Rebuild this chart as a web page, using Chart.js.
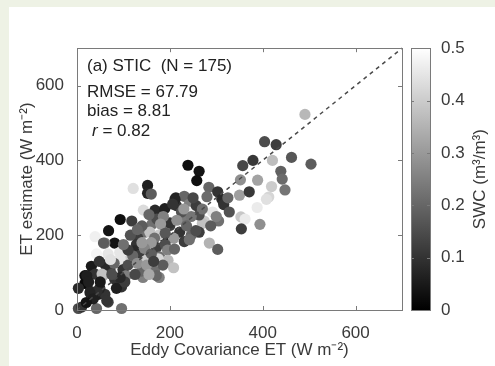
<!DOCTYPE html>
<html><head><meta charset="utf-8">
<script src="https://cdn.jsdelivr.net/npm/chart.js@4"></script>
<style>
html,body{margin:0;padding:0;background:#eef2e5;width:100%;height:100%;overflow:hidden;}
#wrap{position:fixed;left:9px;top:7px;right:0;bottom:0;background:#fff;}
canvas{display:block;}
</style></head><body>
<div id="wrap"><canvas id="c" width="486" height="359"></canvas></div>
<script>
// Eddy covariance ET (x), STIC estimate (y), soil water content (colour)
const ET_EC = [491,404,429,462,504,421,379,357,439,442,352,389,448,419,413,350,371,408,388,353,362,394,354,
239,263,258,284,303,312,316,328,280,213,231,214,242,242,257,292,305,274,228,200,221,253,270,263,246,236,263,246,256,231,242,285,303,288,225,270,
121,152,152,143,168,189,211,93,118,68,39,161,146,157,189,200,187,172,186,176,167,131,128,124,135,156,171,178,208,206,140,155,160,145,190,195,115,180,210,196,208,
81,60,42,67,92,89,112,31,17,17,3,29,46,60,49,67,42,3,96,10,56,39,71,81,99,106,96,85,103,142,142,149,171,177,167,139,175,171,93,93,61,54,57,21,48,25,43,64,28,110,120,130,150,160,80,75,110,50,35,20,125,155,185,165,100,72,140,130,190,215,230,160,250,300,325];
const ET_EST = [523,450,442,408,390,400,400,386,371,350,348,347,321,330,302,307,316,296,274,249,243,229,217,
387,371,346,328,316,296,282,262,303,300,304,279,283,262,279,262,238,238,242,226,208,208,232,254,250,225,208,200,212,183,188,179,162,225,262,270,
325,333,312,267,267,271,296,242,238,212,196,229,208,208,221,233,196,243,250,200,192,192,175,158,146,142,167,142,192,283,225,255,180,165,175,160,200,230,163,133,113,
179,179,150,150,154,133,133,117,92,71,58,50,42,42,58,21,4,4,4,8,92,96,108,83,108,92,62,58,75,108,87,133,117,87,104,104,137,92,137,87,121,96,179,92,130,75,50,25,46,120,145,125,120,150,125,95,160,75,30,20,95,95,120,130,175,135,180,215,205,240,270,310,300,250,300];
const SWC = [0.36,0.15,0.12,0.17,0.18,0.37,0.11,0.14,0.19,0.21,0.28,0.32,0.23,0.40,0.42,0.31,0.11,0.44,0.46,0.39,0.46,0.28,0.12,
0.03,0.04,0.03,0.20,0.10,0.08,0.10,0.16,0.21,0.07,0.20,0.10,0.25,0.47,0.12,0.45,0.22,0.40,0.24,0.12,0.10,0.36,0.38,0.15,0.23,0.20,0.12,0.20,0.15,0.12,0.22,0.35,0.18,0.18,0.16,0.22,
0.44,0.06,0.07,0.43,0.08,0.06,0.07,0.03,0.12,0.04,0.47,0.22,0.22,0.38,0.22,0.10,0.03,0.15,0.25,0.40,0.22,0.12,0.10,0.08,0.12,0.38,0.12,0.22,0.30,0.10,0.18,0.20,0.30,0.26,0.15,0.25,0.16,0.30,0.20,0.36,0.38,
0.04,0.25,0.48,0.45,0.45,0.48,0.40,0.05,0.03,0.02,0.08,0.08,0.06,0.10,0.07,0.12,0.20,0.15,0.22,0.10,0.35,0.10,0.12,0.10,0.10,0.25,0.10,0.06,0.12,0.12,0.25,0.40,0.35,0.25,0.22,0.20,0.42,0.20,0.45,0.08,0.08,0.38,0.18,0.06,0.10,0.06,0.09,0.10,0.07,0.15,0.20,0.28,0.30,0.18,0.20,0.15,0.12,0.05,0.06,0.04,0.14,0.33,0.18,0.12,0.22,0.44,0.30,0.20,0.17,0.28,0.30,0.18,0.14,0.25,0.20];

const X_TICKS = [0,200,400,600];
const Y_TICKS = [0,200,400,600];
const CB_TICKS = [0,0.1,0.2,0.3,0.4,0.5];
const AXIS_MAX = 700;
const SWC_MAX = 0.5;
const ONE_TO_ONE = [0,700];
const STATS = ["(a) STIC  (N = 175)","RMSE = 67.79","bias = 8.81","0.82"];

const FONT = '"Liberation Sans", Arial, sans-serif';
const TXT = '#3a3a3a';
const AX = '#7a7a7a';
const FS = 17;

function grayOf(v){const g=Math.round(Math.max(0,Math.min(1,v/SWC_MAX))*255);return `rgb(${g},${g},${g})`;}

const points = ET_EC.map((x,i)=>({x:x,y:ET_EST[i]}));

const framePlugin = {
  id:'frame',
  afterDatasetsDraw(chart){
    const ctx=chart.ctx, a=chart.chartArea, xs=chart.scales.x, ys=chart.scales.y, cb=chart.scales.cb;
    ctx.save();
    ctx.strokeStyle=AX; ctx.lineWidth=1;
    ctx.strokeRect(Math.round(a.left)+0.5,Math.round(a.top)+0.5,Math.round(a.right-a.left),Math.round(a.bottom-a.top));
    const tl=4;
    ctx.beginPath();
    X_TICKS.forEach(v=>{const p=Math.round(xs.getPixelForValue(v))+0.5;
      ctx.moveTo(p,a.bottom);ctx.lineTo(p,a.bottom-tl);ctx.moveTo(p,a.top);ctx.lineTo(p,a.top+tl);});
    Y_TICKS.forEach(v=>{const p=Math.round(ys.getPixelForValue(v))+0.5;
      ctx.moveTo(a.left,p);ctx.lineTo(a.left+tl,p);ctx.moveTo(a.right,p);ctx.lineTo(a.right-tl,p);});
    ctx.stroke();
    // colour bar
    const bx0=cb.left+9, bx1=cb.left+28;
    const yb=cb.getPixelForValue(0), yt=cb.getPixelForValue(SWC_MAX);
    const g=ctx.createLinearGradient(0,yb,0,yt);
    g.addColorStop(0,grayOf(0)); g.addColorStop(1,grayOf(SWC_MAX));
    ctx.fillStyle=g; ctx.fillRect(bx0,yt,bx1-bx0,yb-yt);
    ctx.strokeStyle=AX;
    ctx.strokeRect(Math.round(bx0)+0.5,Math.round(yt)+0.5,Math.round(bx1-bx0),Math.round(yb-yt));
    ctx.beginPath();
    CB_TICKS.forEach(v=>{const p=Math.round(cb.getPixelForValue(v))+0.5;
      ctx.moveTo(bx0,p);ctx.lineTo(bx0+3,p);ctx.moveTo(bx1,p);ctx.lineTo(bx1-3,p);});
    ctx.stroke();
    // colour bar title
    ctx.fillStyle=TXT; ctx.font=FS+'px '+FONT;
    ctx.translate(cb.left+78,(cb.top+cb.bottom)/2);
    ctx.rotate(-Math.PI/2);
    ctx.textAlign='center'; ctx.textBaseline='middle';
    ctx.fillText('SWC (m\u00B3/m\u00B3)',0,0);
    ctx.restore();
    // statistics text
    ctx.save();
    ctx.fillStyle='#222'; ctx.font=FS+'px '+FONT; ctx.textBaseline='alphabetic'; ctx.textAlign='left';
    ctx.fillText(STATS[0],a.left+10,a.top+23);
    ctx.fillText(STATS[1],a.left+10,a.top+48.5);
    ctx.fillText(STATS[2],a.left+10,a.top+68);
    ctx.font='italic '+FS+'px '+FONT;
    ctx.fillText('r',a.left+15,a.top+88);
    const rw=ctx.measureText('r').width;
    ctx.font=FS+'px '+FONT;
    ctx.fillText(' = '+STATS[3],a.left+15+rw,a.top+88);
    ctx.restore();
  }
};

new Chart(document.getElementById('c'),{
  data:{datasets:[
    {type:'line',data:ONE_TO_ONE.map(v=>({x:v,y:v})),borderColor:'#4a4a4a',borderWidth:1.5,borderDash:[4,4],pointRadius:0,order:0,clip:false},
    {type:'scatter',data:points,backgroundColor:SWC.map(grayOf),borderWidth:0,pointRadius:5.6,pointHoverRadius:5.6,order:1,clip:false}
  ]},
  options:{
    responsive:false,animation:false,
    layout:{padding:{top:22,left:0,right:0,bottom:0}},
    plugins:{legend:{display:false},tooltip:{enabled:false}},
    scales:{
      x:{type:'linear',min:0,max:AXIS_MAX,grid:{display:false},border:{display:false},
        afterBuildTicks:s=>{s.ticks=X_TICKS.map(v=>({value:v}));},
        afterFit:s=>{s.height=56;},
        ticks:{color:TXT,font:{size:FS,family:FONT},padding:5,maxRotation:0},
        title:{display:true,text:'Eddy Covariance ET (W m\u207B\u00B2)',color:TXT,font:{size:FS,family:FONT},padding:{top:0,bottom:5}}},
      y:{type:'linear',min:0,max:AXIS_MAX,grid:{display:false},border:{display:false},
        afterBuildTicks:s=>{s.ticks=Y_TICKS.map(v=>({value:v}));},
        afterFit:s=>{s.width=68;},
        ticks:{color:TXT,font:{size:FS,family:FONT},padding:5},
        title:{display:true,text:'ET estimate (W m\u207B\u00B2)',color:TXT,font:{size:FS,family:FONT},padding:{top:8,bottom:0}}},
      cb:{type:'linear',position:'right',min:0,max:SWC_MAX,grid:{display:false},border:{display:false},
        afterBuildTicks:s=>{s.ticks=CB_TICKS.map(v=>({value:v}));},
        afterFit:s=>{s.width=93;},
        ticks:{color:TXT,font:{size:FS,family:FONT},padding:31,callback:v=>String(v)}}
    }
  },
  plugins:[framePlugin]
});
</script></body></html>
